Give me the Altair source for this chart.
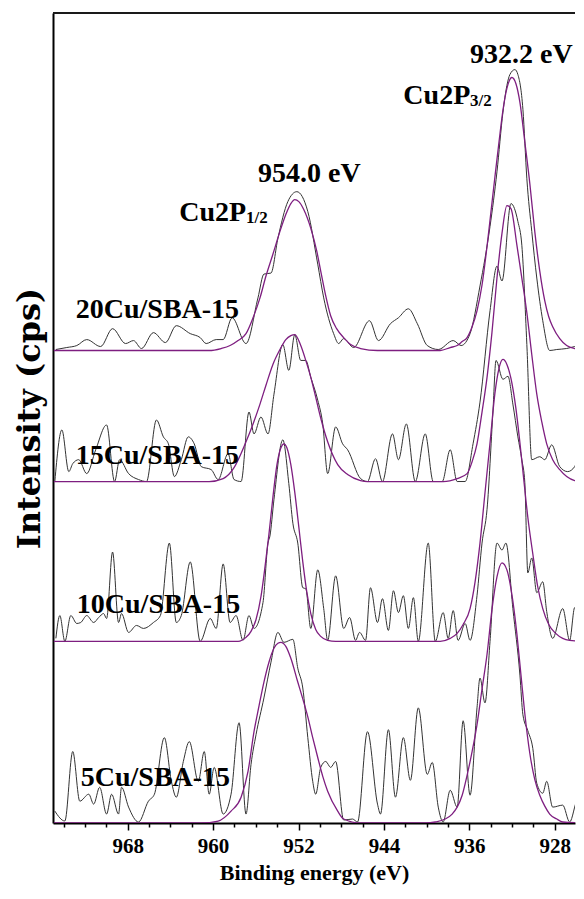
import altair as alt
import pandas as pd

# ---------------- data (binding energy in eV, intensity in arb. units above each trace's baseline)
samples = ["20Cu/SBA-15", "15Cu/SBA-15", "10Cu/SBA-15", "5Cu/SBA-15"]
offsets = [476, 344, 183, 0]

e20 = [974.73, 973.71, 972.77, 971.84, 970.54, 969.42, 968.20, 967.46, 966.71, 965.59, 964.47, 963.45, 962.14, 961.21, 960.65,
       959.71, 959.06, 958.22, 956.92, 955.80, 955.24, 954.58, 953.93, 953.00, 952.16, 951.13, 950.20, 949.64, 948.71, 948.24,
       947.77, 946.84, 945.35, 944.51, 943.39, 942.64, 941.71, 940.87, 939.94, 938.91, 937.51, 936.77, 935.93, 935.00, 934.06,
       933.41, 932.85, 932.48, 932.20, 931.73, 931.45, 930.98, 930.61, 930.15, 929.68, 929.12, 928.47, 927.81, 926.88, 926.13,
       925.67, 925.30]
i20 = [1, 3, 5, 11, 4, 22, 7, 10, 2, 18, 8, 25, 17, 13, 7, 11, 11, 33, 7, 53, 77, 78, 113, 150, 160, 140, 87, 53, 17, 7,
       12, 3, 30, 10, 27, 33, 42, 27, 5, 1, 10, 5, 17, 65, 125, 180, 240, 267, 278, 283, 278, 243, 173, 120, 73, 30, 0, 1, 2, 4,
       5, 3]
fe20 = [974.92, 960.37, 959.25, 958.41, 957.66, 956.92, 956.26, 955.61, 955.05, 954.40, 953.74, 953.19, 952.72, 952.35, 951.97,
        951.51, 950.85, 950.29, 949.92, 949.45, 948.99, 948.43, 947.77, 947.12, 946.19, 944.60, 938.73, 937.79, 937.14, 936.67,
        936.21, 935.74, 935.28, 934.81, 934.34, 933.97, 933.60, 933.22, 932.85, 932.48, 932.01, 931.64, 931.26, 930.80, 930.33,
        929.87, 929.40, 928.93, 928.56, 928.19, 927.53, 926.88, 926.13, 925.30]
fi20 = [0, 0, 2, 5, 10, 17, 33, 53, 75, 97, 120, 137, 148, 152, 150, 142, 123, 100, 80, 55, 35, 22, 13, 6, 2, 0, 0, 3, 5, 9,
        13, 24, 40, 66, 105, 140, 175, 210, 242, 264, 275, 269, 250, 210, 168, 120, 80, 50, 34, 24, 12, 5, 2, 1]

e15 = [974.83, 974.17, 973.52, 973.15, 972.59, 971.84, 971.00, 969.98, 969.23, 968.76, 967.92, 966.99, 966.24, 965.31, 964.66,
       964.19, 963.63, 962.98, 962.33, 961.77, 961.11, 960.18, 959.53, 958.60, 958.04, 957.38, 956.64, 956.17, 955.52, 954.86,
       954.30, 953.47, 952.91, 952.35, 951.79, 951.32, 950.85, 950.20, 949.73, 949.27, 948.52, 947.87, 947.40, 946.19, 945.54,
       944.79, 944.14, 943.20, 942.64, 941.90, 941.06, 940.13, 939.38, 938.54, 937.79, 937.14, 936.39, 935.65, 935.00, 934.06,
       933.41, 932.94, 932.10, 931.45, 931.08, 930.61, 930.15, 929.40, 928.93, 928.28, 927.53, 926.79, 926.13, 925.48, 925.30]
i15 = [0, 52, 10, 18, 22, 8, 32, 57, 0, 22, 8, 2, 0, 62, 45, 38, 5, 22, 45, 38, 15, 12, 2, 28, 2, 0, 70, 48, 65, 48,
       88, 138, 112, 148, 122, 122, 105, 82, 58, 8, 55, 38, 32, 3, 0, 23, 0, 48, 22, 58, 0, 48, 0, 0, 32, 0, 0, 38, 80, 172,
       217, 202, 280, 262, 238, 138, 22, 25, 22, 37, 15, 10, 15, 33, 28]
fe15 = [974.92, 960.37, 959.06, 958.04, 956.92, 956.26, 955.61, 955.05, 954.40, 953.74, 953.19, 952.72, 952.35, 951.79, 951.32,
        950.85, 950.39, 949.92, 949.27, 948.33, 947.40, 946.19, 945.54, 938.45, 937.14, 936.21, 935.74, 935.28, 934.81, 934.34,
        933.88, 933.41, 932.94, 932.48, 932.10, 931.54, 931.08, 930.61, 930.15, 929.68, 929.21, 928.75, 928.19, 927.53, 926.88,
        926.13, 925.30]
fi15 = [0, 0, 3, 14, 40, 58, 78, 97, 118, 133, 143, 147, 148, 137, 122, 105, 85, 64, 40, 17, 7, 1, 0, 0, 3, 8, 20, 38, 70, 105,
        150, 205, 250, 278, 275, 238, 205, 170, 128, 88, 60, 38, 22, 12, 5, 1, 0]

e10 = [974.73, 974.36, 973.89, 973.33, 972.77, 972.40, 971.84, 971.19, 970.72, 970.26, 969.98, 969.42, 968.86, 968.58, 967.92,
       967.18, 966.52, 965.59, 964.94, 964.10, 963.45, 962.98, 962.14, 961.21, 960.27, 959.71, 959.06, 958.41, 957.85, 957.20,
       956.64, 956.17, 955.33, 954.86, 954.68, 954.30, 953.47, 952.91, 952.53, 952.07, 951.60, 951.32, 950.85, 950.20, 949.64,
       949.27, 948.52, 947.77, 947.21, 946.66, 946.28, 945.72, 945.26, 944.60, 944.14, 943.58, 943.11, 942.64, 942.18, 941.71,
       941.24, 940.78, 939.85, 939.19, 938.45, 937.98, 937.51, 937.05, 936.39, 935.93, 935.28, 934.81, 934.34, 933.78, 933.50,
       932.85, 932.38, 931.92, 931.45, 931.08, 930.80, 930.52, 930.15, 929.68, 929.12, 928.75, 928.19, 927.25, 926.60, 926.13,
       925.67, 925.30]
i10 = [3, 26, 0, 26, 18, 19, 26, 19, 24, 28, 23, 90, 19, 28, 9, 16, 13, 19, 26, 99, 19, 26, 80, 0, 23, 13, 78, 19, 26, 1,
       26, 13, 39, 99, 106, 143, 203, 159, 119, 99, 54, 53, 13, 72, 33, 1, 66, 13, 24, 1, 9, 1, 54, 19, 43, 11, 51, 29, 46, 13,
       44, 0, 99, 0, 29, 3, 31, 1, 18, 1, 46, 99, 133, 233, 283, 264, 267, 239, 206, 183, 160, 69, 84, 49, 60, 30, 3, 33, 1, 34,
       26, 49]
fe10 = [974.92, 957.66, 956.92, 956.45, 955.98, 955.52, 955.14, 954.77, 954.40, 954.02, 953.65, 953.37, 953.09, 952.72, 952.35,
        951.97, 951.60, 951.23, 950.85, 950.39, 949.92, 949.27, 948.52, 938.73, 937.79, 937.14, 936.58, 935.93, 935.46, 935.00,
        934.53, 934.06, 933.60, 933.22, 932.85, 932.48, 932.10, 931.64, 931.26, 930.89, 930.52, 930.05, 929.59, 929.12, 928.56,
        927.91, 927.25, 926.60, 925.30]
fi10 = [0, 0, 4, 10, 22, 45, 75, 108, 145, 178, 195, 199, 195, 178, 150, 115, 80, 50, 28, 12, 5, 1, 0, 0, 3, 8, 17, 33, 60, 99,
        150, 200, 250, 275, 284, 279, 265, 235, 200, 162, 125, 88, 55, 33, 17, 8, 3, 1, 0]

e5 = [974.83, 973.89, 973.15, 972.49, 971.65, 971.19, 970.63, 969.98, 969.51, 968.86, 968.58, 967.92, 966.99, 966.06, 965.50,
      964.57, 963.91, 963.45, 962.79, 962.23, 961.39, 960.83, 960.37, 959.90, 959.06, 958.32, 957.57, 956.92, 956.45, 955.98,
      955.24, 954.58, 953.93, 953.37, 952.53, 952.07, 951.60, 951.13, 950.67, 950.39, 949.92, 949.45, 948.99, 948.52, 947.77,
      946.94, 946.47, 945.54, 944.60, 944.32, 943.58, 942.92, 942.18, 941.52, 940.78, 939.94, 939.47, 938.91, 938.45, 937.79,
      937.14, 936.58, 935.93, 935.28, 935.00, 934.53, 934.06, 933.41, 932.94, 932.57, 931.92, 931.26, 930.98, 930.52, 930.05,
      929.68, 929.12, 928.75, 928.19, 927.25, 926.60, 925.85, 925.30]
i5 = [12, 2, 72, 22, 29, 19, 36, 9, 29, 9, 36, 16, 1, 22, 29, 86, 42, 26, 62, 82, 42, 72, 29, 56, 9, 29, 101, 9, 59, 89,
      126, 162, 192, 182, 185, 156, 136, 86, 42, 29, 56, 62, 56, 62, 3, 4, 1, 92, 19, 9, 94, 26, 86, 43, 116, 49, 61, 16, 1, 33,
      16, 103, 28, 116, 146, 121, 183, 282, 275, 282, 216, 149, 109, 93, 75, 40, 30, 42, 16, 18, 1, 23, 16]
fe5 = [974.92, 961.11, 959.53, 958.32, 957.38, 956.73, 956.17, 955.70, 955.24, 954.77, 954.30, 953.93, 953.65, 953.19, 952.72,
       952.07, 951.60, 951.13, 950.67, 950.20, 949.73, 949.27, 948.33, 947.77, 946.19, 940.13, 939.19, 938.26, 937.61, 937.14,
       936.67, 936.21, 935.74, 935.28, 934.81, 934.34, 933.88, 933.41, 932.94, 932.48, 932.01, 931.54, 931.17, 930.80, 930.33,
       929.87, 929.40, 928.93, 928.47, 927.81, 927.25, 925.30]
fi5 = [0, 0, 2, 12, 26, 52, 92, 118, 142, 162, 176, 181, 182, 178, 166, 142, 125, 107, 86, 66, 47, 32, 12, 4, 0, 0, 1, 4, 9, 16,
       28, 48, 72, 99, 135, 170, 215, 248, 262, 255, 230, 190, 150, 110, 70, 44, 28, 17, 9, 4, 1, 0]

# annotations (label text and anchor in data coordinates)
label_text = ["20Cu/SBA-15", "15Cu/SBA-15", "10Cu/SBA-15", "5Cu/SBA-15", "Cu2P", "954.0 eV", "Cu2P", "932.2 eV"]
label_e = [972.87, 972.87, 972.77, 972.40, 963.17, 955.80, 942.18, 935.93]
label_y = [509, 362, 212, 37, 606, 646, 724, 766]
sub_text = ["1/2", "3/2"]
sub_e = [956.92, 935.93]
sub_y = [604, 722]

tick_values = list(range(928, 975, 2))

# ---------------- tables
raw_sets = [(e20, i20), (e15, i15), (e10, i10), (e5, i5)]
fit_sets = [(fe20, fi20), (fe15, fi15), (fe10, fi10), (fe5, fi5)]
rows_raw, rows_fit = [], []
for name, off, (ex, ix), (fx, fy) in zip(samples, offsets, raw_sets, fit_sets):
    assert len(ex) == len(ix) and len(fx) == len(fy), name
    rows_raw += [{"energy": a, "intensity": b + off, "sample": name} for a, b in zip(ex, ix)]
    rows_fit += [{"energy": a, "intensity": b + off, "sample": name} for a, b in zip(fx, fy)]
df_raw = pd.DataFrame(rows_raw)
df_fit = pd.DataFrame(rows_fit)
df_lab = pd.DataFrame({"energy": label_e, "intensity": label_y, "text": label_text})
df_sub = pd.DataFrame({"energy": sub_e, "intensity": sub_y, "text": sub_text})

TOTAL_W, TOTAL_H = 568, 878
SERIF = "Liberation Serif"

x_scale = alt.Scale(domain=[975.0, 926.1], nice=False, zero=False)
y_scale = alt.Scale(domain=[0, 816], nice=False, zero=False)

x_axis = alt.Axis(
    values=tick_values,
    labelExpr="datum.value % 8 === 0 ? datum.label : ''",
    title="Binding energy (eV)",
    grid=False,
    domainColor="black", domainWidth=2,
    tickColor="black", tickWidth=1.5,
    tickSize={"condition": {"test": "datum.value % 8 === 0", "value": 7}, "value": 4},
    labelFont=SERIF, labelFontSize=21, labelFontWeight="bold", labelColor="black",
    labelPadding=5, labelOverlap=False, labelFlush=False,
    titleFont=SERIF, titleFontSize=22, titleFontWeight="bold", titleColor="black",
    titlePadding=6,
)
y_axis = alt.Axis(
    title="Intensity (cps)",
    labels=False, ticks=False, grid=False,
    domainColor="black", domainWidth=2,
    titleFont="DejaVu Serif", titleFontSize=32, titleFontWeight="bold", titleColor="black",
    titlePadding=7,
)

X = alt.X("energy:Q", scale=x_scale, axis=x_axis)
Y = alt.Y("intensity:Q", scale=y_scale, axis=y_axis)

raw = alt.Chart(df_raw).mark_line(color="#333333", strokeWidth=1, interpolate="monotone", clip=True).encode(
    x=X, y=Y, detail="sample:N")
fit = alt.Chart(df_fit).mark_line(color="#7e1e80", strokeWidth=1.3, interpolate="monotone", clip=True).encode(
    x=X, y=Y, detail="sample:N")
labels = alt.Chart(df_lab).mark_text(font=SERIF, fontSize=28, fontWeight="bold", color="black",
                                     align="left", baseline="alphabetic").encode(x=X, y=Y, text="text:N")
subs = alt.Chart(df_sub).mark_text(font=SERIF, fontSize=17, fontWeight="bold", color="black",
                                   align="left", baseline="alphabetic").encode(x=X, y=Y, text="text:N")
top = alt.Chart(pd.DataFrame({"k": [0]})).mark_rule(color="#1a1a1a", strokeWidth=2).encode(
    x=alt.value(0), x2=alt.value("width"), y=alt.value(0))

chart = alt.layer(raw, fit, labels, subs, top).properties(
    width=TOTAL_W, height=TOTAL_H,
    autosize=alt.AutoSizeParams(type="fit", contains="padding"),
    padding={"left": 5, "top": 4, "right": 0, "bottom": 3},
).configure_view(stroke=None)

chart.save("out.html", embed_options={"renderer": "svg", "actions": False})
